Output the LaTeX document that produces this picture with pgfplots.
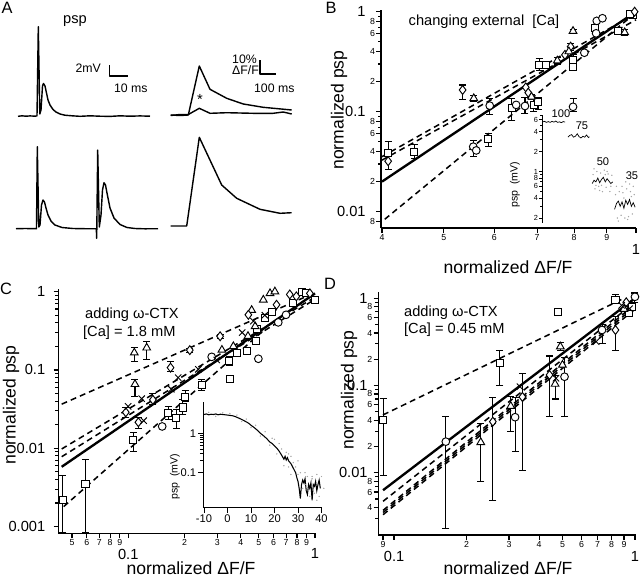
\documentclass[border=0pt]{standalone}
\usepackage{pgfplots}
\pgfplotsset{compat=1.18}
\usepackage{fontspec}
\setmainfont{Liberation Sans}

\newcommand\fmaj{\fontsize{12.5}{14}\selectfont}
\newcommand\fmin{\fontsize{7.5}{8}\selectfont}
\newcommand\flab{\fontsize{15}{17}\selectfont}
\newcommand\fann{\fontsize{12.5}{14}\selectfont}
\newcommand\fsb{\fontsize{10.5}{12}\selectfont}
\newcommand\fpan{\fontsize{14}{16}\selectfont}
% big tick labels: lowered (x) or pushed left (y)
\newcommand\lo[2][9pt]{\raisebox{-#1}[\height][\depth]{\fmaj #2}}
\newcommand\lf[2][8pt]{\fmaj #2\kern#1}

\pgfplotsset{
  pnl/.style={
    scale only axis,
    axis lines*=left, axis line style={line width=1.2pt, -},
    tick style={black, line width=1pt},
    tick align=outside, major tick length=4pt, minor tick length=2.5pt,
    tick label style={font=\fmin, inner sep=1pt},
    clip=false,
  },
  mk/.style={only marks, mark options={fill=white, solid, line width=0.8pt}},
  mSq/.style={mk, mark=square*, mark size=3pt},
  mCi/.style={mk, mark=*, mark size=3.3pt},
  mTr/.style={mk, mark=triangle*, mark size=3.8pt},
  mDi/.style={mk, mark=diamond*, mark size=3.8pt},
  mX/.style={only marks, mark=x, mark size=3.8pt, mark options={line width=0.8pt}},
  eb/.style={/pgfplots/error bars/y dir=both, /pgfplots/error bars/y explicit,
    /pgfplots/error bars/error bar style={line width=0.9pt, black},
    /pgfplots/error bars/error mark options={rotate=90, line width=0.9pt, mark size=3pt, black}},
  lfit/.style={no marks, black, line width=2pt},
  dfit/.style={no marks, black, line width=1.3pt, dash pattern=on 5pt off 3.5pt},
  trc/.style={no marks, black, line width=1.2pt, line join=round},
}

\begin{document}
\begin{tikzpicture}
\useasboundingbox (0,0) rectangle (19.2cm,-17.31cm);

% ---------- A: traces ----------
\begin{axis}[at={(0cm,-8.4cm)}, anchor=south west, scale only axis,
  width=9.6cm, height=8.4cm, xmin=0, xmax=320, ymin=0, ymax=280,
  y dir=reverse, hide axis, clip=false]
\addplot[trc] coordinates {(18,116.3) (22,115.8) (26,116.2) (30,115.9) (34,116.1) (37,116)
  (38.3,26.7) (39.8,114) (41,110) (42.5,86) (43.5,83.5) (45,86) (46.5,93) (48,100)
  (50,105) (53,109.5) (56,112) (60,114) (65,115.2) (72,115.8) (80,116.3) (90,115.8)
  (100,116.2) (110,116.4) (120,115.8) (130,116.2) (140,115.9) (150,116.2)};
\addplot[trc] coordinates {(16,228.7) (25,228.5) (36.5,228.7) (37.3,146.7) (38.8,227)
  (40,225) (41.5,205) (43,200) (44.5,202) (46,208) (48,215) (51,221) (55,225)
  (62,227.5) (73,228.5) (85,228.7) (96.3,228.7) (96.7,238.3) (97.7,150) (99.3,227)
  (101,215) (102.5,190) (104,182.7) (105.5,185) (107,193) (110,208) (114,218)
  (120,224.5) (127,227.5) (135,228.5) (145,228.8) (158,228.7)};
\addplot[trc] coordinates {(170.7,115) (180,115.5) (188.3,115) (199.3,66) (210,89.3)
  (226.7,98.3) (243.3,104) (263.3,107.3) (291.7,110)};
\addplot[trc] coordinates {(170.7,115.5) (180,114.5) (188.3,114.5) (199.3,108.3)
  (210,113.3) (226.7,112.7) (253.3,113.3) (273,113.3) (283.3,112) (291.7,114)};
\addplot[trc] coordinates {(170.7,226) (186.7,226) (199.3,137.3) (221.7,185)
  (236.7,198.3) (260,209.3) (280,213.3) (291.7,212.7)};
% scale bars
\addplot[trc] coordinates {(109.3,65) (109.3,76) (128.3,76)};
\addplot[trc] coordinates {(260,60) (260,74) (276,74)};
\end{axis}

% ---------- B ----------
\begin{loglogaxis}[pnl, at={(11.43cm,-6.84cm)}, anchor=south west,
  width=7.65cm, height=6.54cm,
  xmin=0.3986, xmax=1, ymin=0.00687, ymax=1.04,
  xtick={0.4,0.5,0.6,0.7,0.8,0.9,1},
  xticklabels={4,5,6,7,8,9,{\lo{1}}},
  ytick={0.008,0.01,0.02,0.04,0.06,0.08,0.1,0.2,0.4,0.6,0.8,1},
  yticklabels={8,{\lf{0.01}},2,4,6,8,{\lf{0.1}},2,4,6,8,{\lf{1}}},
  minor ytick={0.03,0.05,0.07,0.09,0.3,0.5,0.7,0.9}]
\addplot[lfit] coordinates {(0.4,0.02) (1,1)};
\addplot[dfit] coordinates {(0.4,0.0355) (1,0.96)};
\addplot[dfit] coordinates {(0.4,0.0328) (1,0.83)};
\addplot[dfit] coordinates {(0.404,0.0084) (1,0.98)};
\addplot[mSq, eb] coordinates {
  (0.409,0.0384) += (0,0.0116) -= (0,0.0121)
  (0.449,0.0398) += (0,0.0072) -= (0,0.0058)
  (0.587,0.053) += (0,0.008) -= (0,0.008)
  (0.639,0.108) += (0,0.028) -= (0,0.026)
  (0.691,0.117) += (0,0.016) -= (0,0.017)
  (0.703,0.124) += (0,0.016) -= (0,0.019)
  (0.705,0.293) += (0,0.047) -= (0,0.033)
  (0.797,0.329) += (0,0.041) -= (0,0.039)};
\addplot[mSq] coordinates {(0.722,0.293) (0.797,0.282) (0.862,0.682) (0.936,0.646) (0.99,0.927) (0.98,0.95)};
\addplot[mCi, eb] coordinates {
  (0.556,0.0447) += (0,0.0073) -= (0,0.0092)
  (0.59,0.115) += (0,0.021) -= (0,0.022)
  (0.67,0.114) += (0,0.026) -= (0,0.019)
  (0.797,0.112) += (0,0.023) -= (0,0.012)};
\addplot[mCi] coordinates {(0.562,0.041) (0.649,0.117) (0.83,0.389) (0.866,0.608) (0.868,0.81) (0.886,0.86)};
\addplot[mDi, eb] coordinates {
  (0.535,0.165) += (0,0.02) -= (0,0.032)
  (0.79,0.447) += (0,0.033) -= (0,0.037)};
\addplot[mDi] coordinates {(0.409,0.032) (0.672,0.175) (0.678,0.155) (0.774,0.37) (0.995,1.0)};
\addplot[mTr, eb] coordinates {
  (0.557,0.136) += (0,0.009) -= (0,0.008)
  (0.686,0.141) += (0,0.009) -= (0,0.008)
  (0.753,0.324) += (0,0.026) -= (0,0.024)
  (0.797,0.64) += (0,0.03) -= (0,0.03)
  (0.96,0.62) += (0,0.04) -= (0,0.04)};
\addplot[mTr] coordinates {(0.785,0.40)};
\end{loglogaxis}

% ---------- B inset ----------
\begin{semilogyaxis}[scale only axis, at={(16.281cm,-6.681cm)}, anchor=south west,
  width=2.8cm, height=3.231cm,
  xmin=0, xmax=100, ymin=0.17, ymax=7.1,
  axis x line=none, axis y line*=left, axis line style={line width=1pt, -},
  tick style={black, line width=0.8pt}, tick align=outside,
  major tick length=3pt, minor tick length=2pt,
  ytick={0.2,0.4,0.6,0.8,1,2,4,6}, yticklabels={2,4,6,8,1,2,4,6},
  minor ytick={0.3,0.5,0.7,0.9,3,5,7},
  tick label style={font=\fontsize{6.3}{7}\selectfont, inner sep=0.8pt}, clip=false]
\addplot[only marks, mark=*, mark size=0.35pt, gray!70] coordinates {
  (54,0.9) (56,0.55) (58,1.0) (60,0.6) (62,0.95) (64,0.5) (66,1.05) (68,0.58)
  (70,0.92) (72,0.5) (74,0.88) (57,0.62) (63,0.62) (69,1.0) (55,1.1) (61,0.52)
  (67,0.9) (73,0.6) (78,0.45) (80,0.2) (82,0.5) (84,0.22) (86,0.48) (88,0.2)
  (90,0.55) (92,0.21) (94,0.5) (96,0.23) (98,0.45) (85,0.6) (93,0.65) (81,0.18)
  (89,0.7) (79,0.6) (87,0.4) (95,0.42) (91,0.19) (97,0.6)};
\addplot[no marks, black, line width=0.6pt] coordinates {(0,5.6) (2,5.7) (4,5.5)
  (6,5.65) (8,5.5) (10,5.7) (12,5.55) (14,5.75) (16,5.5) (18,5.6) (20,5.45) (22,5.65) (24,5.55)};
\addplot[no marks, black, line width=0.6pt] coordinates {(27,3.3) (29,3.5) (31,3.6)
  (33,3.3) (35,3.4) (37,3.7) (39,3.35) (41,3.2) (43,3.4) (45,3.3) (47,3.55) (49,3.25) (50,3.35)};
\addplot[no marks, black, line width=0.6pt] coordinates {(53,0.66) (55,0.74) (57,0.7)
  (59,0.8) (61,0.68) (63,0.76) (65,0.82) (67,0.7) (69,0.78) (71,0.72) (73,0.66) (75,0.7)};
\addplot[no marks, black, line width=0.6pt] coordinates {(77,0.27) (79,0.33) (81,0.36)
  (83,0.3) (85,0.35) (87,0.28) (89,0.37) (91,0.32) (93,0.38) (95,0.3) (97,0.34) (99,0.29)};
\end{semilogyaxis}

% ---------- C ----------
\begin{loglogaxis}[pnl, at={(1.749cm,-16.0cm)}, anchor=south west,
  width=7.731cm, height=7.33cm,
  xmin=0.0422, xmax=1.0116, ymin=0.00082, ymax=1.08,
  xtick={0.05,0.06,0.07,0.08,0.09,0.1,0.2,0.3,0.4,0.5,0.6,0.7,0.8,0.9,1},
  xticklabels={5,6,7,8,9,{\lo[8pt]{0.1}},2,3,4,5,6,7,8,9,{\lo[8pt]{1}}},
  ytick={0.001,0.01,0.1,1},
  yticklabels={{\lf[6pt]{0.001}},{\lf[6pt]{0.01}},{\lf[6pt]{0.1}},{\lf[6pt]{1}}}]
\addplot[lfit] coordinates {(0.044,0.0058) (1,0.95)};
\addplot[dfit] coordinates {(0.044,0.0366) (1,0.97)};
\addplot[dfit] coordinates {(0.044,0.0098) (1,0.85)};
\addplot[dfit] coordinates {(0.044,0.0078) (1,0.80)};
\addplot[dfit] coordinates {(0.0451,0.0018) (0.5385,0.33)};
\addplot[mSq, eb] coordinates {
  (0.0446,0.0022) += (0,0.0023) -= (0,0.00137)
  (0.059,0.0035) += (0,0.0036) -= (0,0.00267)
  (0.1065,0.0129) += (0,0.0031) -= (0,0.0037)
  (0.1635,0.028) += (0,0.006) -= (0,0.005)
  (0.1811,0.0242) += (0,0.0068) -= (0,0.0062)
  (0.1958,0.0332) += (0,0.0088) -= (0,0.0062)
  (0.2016,0.0446) += (0,0.0104) -= (0,0.0046)
  (0.2469,0.064) += (0,0.011) -= (0,0.009)
  (0.3472,0.132) += (0,0.018) -= (0,0.017)};
\addplot[mSq] coordinates {(0.3502,0.076) (0.3802,0.163) (0.4304,0.174) (0.4828,0.233)
  (0.4879,0.33) (0.5385,0.46) (0.5893,0.55) (0.7628,0.71) (0.8481,1.0) (0.8967,0.95) (1.0,0.78)};
\addplot[mCi] coordinates {(0.1519,0.019) (0.2796,0.147) (0.497,0.139) (0.6354,0.405) (0.6991,0.506)};
\addplot[mTr, eb] coordinates {
  (0.1077,0.166) += (0,0.026) -= (0,0.036)
  (0.1255,0.192) += (0,0.04) -= (0,0.056)
  (0.1086,0.0657) += (0,0.0103) -= (0,0.0197)};
\addplot[mTr] coordinates {(0.3172,0.18) (0.3652,0.2) (0.4374,0.27) (0.4777,0.36) (0.4576,0.58)
  (0.5284,0.785) (0.5741,0.95) (0.6095,1.0)};
\addplot[mDi, eb] coordinates {
  (0.097,0.0288) += (0,0.0042) -= (0,0.0038)
  (0.1133,0.0215) += (0,0.0035) -= (0,0.0035)
  (0.1354,0.0416) += (0,0.0084) -= (0,0.0056)
  (0.1684,0.107) += (0,0.023) -= (0,0.012)
  (0.2135,0.179) += (0,0.011) -= (0,0.014)
  (0.3103,0.269) += (0,0.011) -= (0,0.014)};
\addplot[mDi] coordinates {(0.4394,0.506) (0.6218,0.68) (0.7322,0.92) (0.7939,0.87) (0.938,0.95)};
\addplot[mX] coordinates {(0.0998,0.0343) (0.118,0.043) (0.1209,0.0225) (0.17,0.0568)
  (0.185,0.0798) (0.2371,0.102) (0.2974,0.134) (0.4073,0.3) (0.4676,0.42) (0.5385,0.5)};
\end{loglogaxis}

% ---------- C inset ----------
\begin{semilogyaxis}[scale only axis, at={(6.099cm,-15.231cm)}, anchor=south west,
  width=3.56cm, height=3.18cm,
  xmin=-10.3, xmax=40.2, ymin=0.0129, ymax=6.34,
  axis lines*=left, axis line style={line width=1pt, -},
  tick style={black, line width=0.8pt}, tick align=outside, major tick length=4.5pt,
  xtick={-10,0,10,20,30,40}, ytick={0.1,1}, yticklabels={0.1,1},
  /pgf/number format/assume math mode=true,
  tick label style={font=\fontsize{9.5}{11}\selectfont, inner sep=1.5pt}, clip=false]
\addplot[only marks, mark=*, mark size=0.35pt, gray!70] coordinates {
  (-8,3.4) (-5,2.7) (-2,3.3) (1,3.2) (4,2.9) (6,2.0) (8,2.3) (10,1.4) (12,1.6)
  (14,0.85) (16,1.1) (18,0.5) (19,0.75) (21,0.3) (22,0.55) (23,0.4) (24,0.15)
  (25,0.33) (26,0.14) (27,0.26) (28,0.18) (29,0.14) (30,0.09) (31,0.1) (32,0.04)
  (33,0.1) (34,0.08) (35,0.025) (36,0.08) (37,0.03) (38,0.09) (39,0.025) (40,0.08)
  (41,0.04) (27,0.09) (33,0.05) (36,0.07) (38,0.02) (20,0.7) (26,0.3) (30,0.2)};
\addplot[no marks, black, line width=0.9pt] coordinates {
  (-10,3.0) (-9,3.1) (-8,2.95) (-7,3.05) (-6,3.0) (-5,3.1) (-4,2.95) (-3,3.05)
  (-2,3.0) (-1,2.95) (0,2.9) (1,2.85) (2,2.8) (3,2.7) (4,2.55) (5,2.4) (6,2.25)
  (7,2.1) (8,1.95) (9,1.8) (10,1.6) (11,1.45) (12,1.3) (13,1.15) (14,1.0) (15,0.9)
  (16,0.8) (17,0.7) (18,0.6) (19,0.55) (20,0.48) (21,0.42) (22,0.35) (23,0.28)
  (24,0.22) (24.5,0.26) (25,0.21) (25.5,0.24) (26,0.2) (27,0.17) (28,0.13) (29,0.1)
  (29.5,0.075) (30,0.06) (30.5,0.04) (31,0.022) (31.5,0.05) (32,0.065) (32.5,0.055)
  (33,0.07) (33.5,0.035) (34,0.028) (34.5,0.05) (35,0.04) (35.5,0.055) (36,0.02)
  (36.5,0.05) (37,0.045) (37.5,0.06) (38,0.035) (38.5,0.05) (39,0.065) (39.5,0.04)};
\end{semilogyaxis}

% ---------- D ----------
\begin{loglogaxis}[pnl, at={(11.349cm,-16.05cm)}, anchor=south west,
  width=7.731cm, height=7.29cm,
  xmin=0.086, xmax=1.01, ymin=0.00193, ymax=1.18,
  xtick={0.09,0.1,0.2,0.3,0.4,0.5,0.6,0.7,0.8,0.9,1},
  xticklabels={9,{\lo{0.1}},2,3,4,5,6,7,8,9,{\lo{1}}},
  ytick={0.004,0.006,0.008,0.01,0.02,0.04,0.06,0.08,0.1,0.2,0.4,0.6,0.8,1},
  yticklabels={4,6,8,{\lf[4pt]{0.01}},2,4,6,8,{\lf[4pt]{0.1}},2,4,6,8,{\lf[4pt]{1}}},
  minor ytick={0.003,0.005,0.007,0.009,0.03,0.05,0.07,0.09,0.3,0.5,0.7,0.9}]
\addplot[dfit] coordinates {(0.09,0.046) (0.9,1.0)};
\addplot[lfit] coordinates {(0.09,0.0063) (1,1.0)};
\addplot[dfit] coordinates {(0.09,0.0047) (1,0.9)};
\addplot[dfit] coordinates {(0.09,0.0037) (1,0.85)};
\addplot[dfit] coordinates {(0.09,0.0035) (1,0.8)};
\addplot[dfit] coordinates {(0.09,0.0033) (1,0.75)};
\addplot[mSq, eb] coordinates {
  (0.09,0.0402) += (0,0.0308) -= (0,0.0308)
  (0.275,0.18) += (0,0.07) -= (0,0.081)
  (0.83,0.955) += (0,0.145) -= (0,0.085)};
\addplot[mSq] coordinates {(0.48,0.70) (0.94,0.67) (0.97,0.8)};
\addplot[mCi, eb] coordinates {
  (0.164,0.0227) += (0,0.0213) -= (0,0.0204)
  (0.318,0.0433) += (0,0.0297) -= (0,0.0258)
  (0.51,0.126) += (0,0.084) -= (0,0.082)
  (0.73,0.433) += (0,0.067) -= (0,0.133)
  (1.0,1.04) += (0,0.11) -= (0,0.14)};
\addplot[mTr, eb] coordinates {
  (0.229,0.0223) += (0,0.0147) -= (0,0.0144)
  (0.305,0.058) += (0,0.017) -= (0,0.028)
  (0.466,0.104) += (0,0.026) -= (0,0.034)
  (0.49,0.279) += (0,0.031) -= (0,0.029)};
\addplot[mTr] coordinates {(0.5,0.172) (0.9,0.75)};
\addplot[mDi, eb] coordinates {
  (0.257,0.0385) += (0,0.0345) -= (0,0.0337)
  (0.341,0.074) += (0,0.064) -= (0,0.0633)
  (0.442,0.132) += (0,0.086) -= (0,0.088)
  (0.83,0.433) += (0,0.187) -= (0,0.178)};
\addplot[mDi] coordinates {(0.92,0.9)};
\addplot[mX] coordinates {(0.333,0.097) (0.47,0.121) (0.69,0.318) (0.88,0.83) (0.95,0.76)};
\end{loglogaxis}

% ---------- text ----------
\begin{scope}[x=0.03cm, y=-0.03cm]
\node[font=\fpan] at (7,8) {A};
\node[font=\fpan] at (331,8) {B};
\node[font=\fpan] at (6,289) {C};
\node[font=\fpan] at (330,284) {D};
\node[font=\fann] at (75,21) {psp};
\node[font=\fsb, anchor=east] at (105,68) {2mV};
\node[font=\fsb, anchor=west] at (110,88) {10 ms};
\node[font=\fsb, anchor=west, inner sep=0pt] at (232,59) {10\%};
\node[font=\fsb, anchor=west, inner sep=0pt] at (232,70.5) {ΔF/F};
\node[font=\fsb, anchor=west] at (250,88) {100 ms};
\node[font=\fann] at (200,99) {*};
\node[font=\fann] at (484,22) {changing external\ \ [Ca]};
\node[font=\fontsize{9.5}{11}\selectfont] at (561,114) {100};
\node[font=\fontsize{9.5}{11}\selectfont] at (582,126) {75};
\node[font=\fontsize{9.5}{11}\selectfont] at (603,162) {50};
\node[font=\fontsize{9.5}{11}\selectfont] at (632,176) {35};
\node[font=\fontsize{9}{11}\selectfont, rotate=90, inner sep=0pt] at (515,185) {psp\ \ (mV)};
\node[font=\fontsize{9}{11}\selectfont, rotate=90, inner sep=0pt] at (175,477) {psp\ \ (mV)};
\node[font=\fann, anchor=west] at (81,315) {adding ω-CTX};
\node[font=\fann, anchor=west] at (79,333) {[Ca] = 1.8 mM};
\node[font=\fann, anchor=west] at (400,313) {adding ω-CTX};
\node[font=\fann, anchor=west] at (400,330) {[Ca] = 0.45 mM};
\node[font=\flab, inner sep=0pt] at (508,267) {normalized ΔF/F};
\node[font=\flab, inner sep=0pt] at (191,568) {normalized ΔF/F};
\node[font=\flab, inner sep=0pt] at (508,568) {normalized ΔF/F};
\node[font=\flab, rotate=90] at (339,110) {normalized psp};
\node[font=\flab, rotate=90] at (11,405) {normalized psp};
\node[font=\flab, rotate=90] at (349,390) {normalized psp};
\end{scope}
\end{tikzpicture}
\end{document}
